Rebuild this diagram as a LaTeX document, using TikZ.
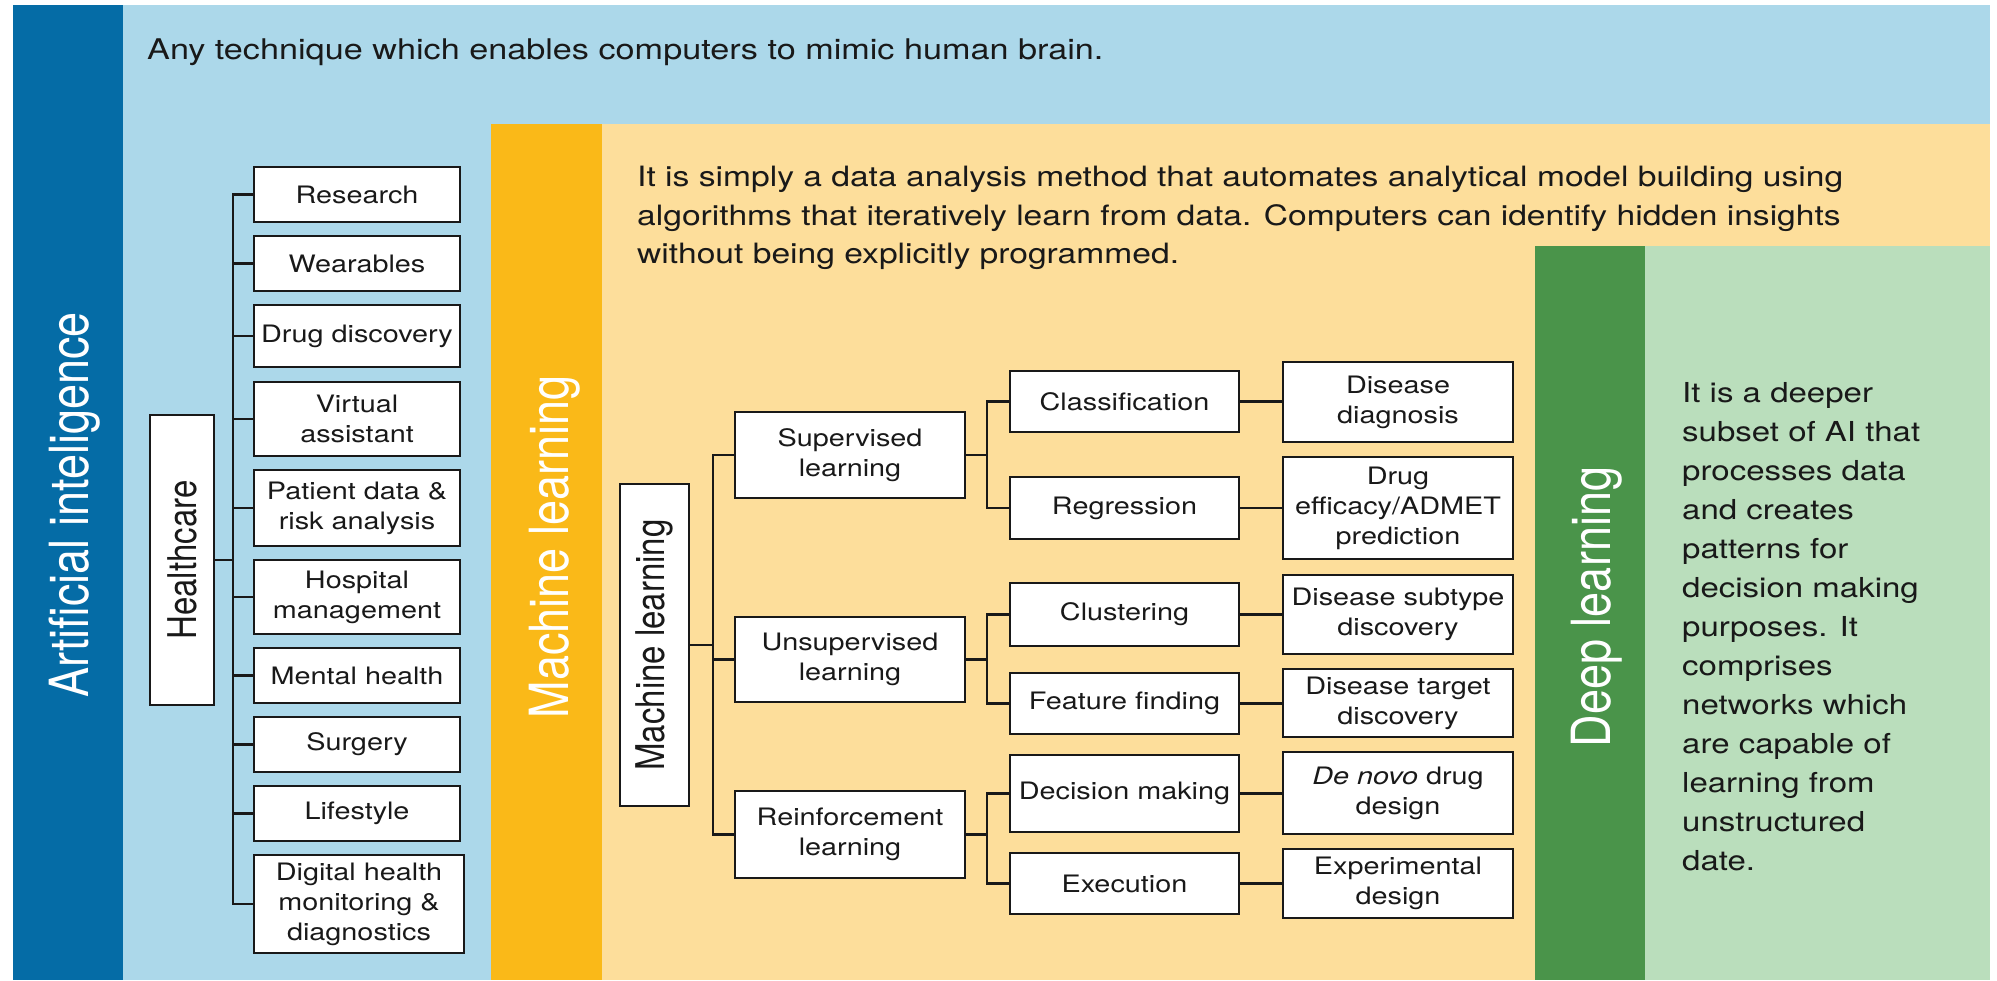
\documentclass[tikz,border=0pt]{standalone}
\usepackage{fontspec}
\usepackage{graphicx}
\setmainfont{TeX Gyre Heros}[FakeStretch=1.2]
\newfontfamily\plainfont{TeX Gyre Heros}
\definecolor{aiDark}{RGB}{5,108,166}
\definecolor{aiLight}{RGB}{172,216,234}
\definecolor{mlDark}{RGB}{250,185,24}
\definecolor{mlLight}{RGB}{253,222,155}
\definecolor{dlDark}{RGB}{74,148,74}
\definecolor{dlLight}{RGB}{186,222,188}
\definecolor{ink}{RGB}{25,25,25}
\begin{document}
\begin{tikzpicture}[x=1pt,y=-1pt,
  box/.style={draw=ink, line width=2.2pt, fill=white, align=center, inner sep=0pt,
    font=\fontsize{24}{30}\selectfont, text=ink},
  conn/.style={draw=ink, line width=2.2pt, line cap=rect},
  vlabel/.style={rotate=90, text=white, inner sep=0pt},
  para/.style={anchor=north west, align=left, inner sep=0pt, text=ink}]
% canvas
\fill[white] (0,0) rectangle (1997,980);
\useasboundingbox (0,0) rectangle (1997,980);
\fill[aiLight] (13,5) rectangle (1990,980);
\fill[aiDark] (13,5) rectangle (123,980);
\fill[mlLight] (491,124) rectangle (1990,980);
\fill[mlDark] (491,124) rectangle (602,980);
\fill[dlLight] (1535,246) rectangle (1990,980);
\fill[dlDark] (1535,246) rectangle (1645,980);
% band labels
\node[vlabel] (lai) at (75,505) {\scalebox{1}[1.2]{\plainfont\fontsize{45}{54}\selectfont Artificial inteligence}};
\node[vlabel] (lml) at (555,547) {\scalebox{1}[1.2]{\plainfont\fontsize{45}{54}\selectfont Machine learning}};
\node[vlabel] (ldl) at (1597,607) {\scalebox{1}[1.2]{\plainfont\fontsize{45}{54}\selectfont Deep learning}};
% descriptions
\node[anchor=base west, inner sep=0pt, text=ink, font=\fontsize{28.5}{34}\selectfont] (tai) at (147,59) {Any technique which enables computers to mimic human brain.};
\node[para, font=\fontsize{28}{38.5}\selectfont] (tml) at (637,166) {It is simply a data analysis method that automates analytical model building using\\algorithms that iteratively learn from data. Computers can identify hidden insights\\without being explicitly programmed.};
\node[para, font=\fontsize{27.5}{39}\selectfont] (tdl) at (1682,382) {It is a deeper\\subset of AI that\\processes data\\and creates\\patterns for\\decision making\\purposes. It\\comprises\\networks which\\are capable of\\learning from\\unstructured\\date.};
% healthcare tree
\node[box, rotate=90, minimum width=290, minimum height=64] (hc) at (182,560) {\scalebox{1}[1.2]{\plainfont\fontsize{33}{40}\selectfont Healthcare}};
\node[box, minimum width=206, minimum height=55] (h1) at (357,194.5) {Research};
\node[box, minimum width=206, minimum height=55] (h2) at (357,263.5) {Wearables};
\node[box, minimum width=206, minimum height=62] (h3) at (357,336) {Drug discovery};
\node[box, minimum width=206, minimum height=74] (h4) at (357,419) {Virtual\\assistant};
\node[box, minimum width=206, minimum height=76] (h5) at (357,508) {Patient data \&\\risk analysis};
\node[box, minimum width=206, minimum height=74] (h6) at (357,597) {Hospital\\management};
\node[box, minimum width=206, minimum height=55] (h7) at (357,675.5) {Mental health};
\node[box, minimum width=206, minimum height=55] (h8) at (357,744.5) {Surgery};
\node[box, minimum width=206, minimum height=55] (h9) at (357,813.5) {Lifestyle};
\node[box, minimum width=210, minimum height=98] (h10) at (359,904) {Digital health\\monitoring \&\\diagnostics};
\coordinate (trA) at (233,0);
\draw[conn] (h1.west -| trA) -- (h10.west -| trA);
\foreach \n in {1,...,10} \draw[conn] (h\n.west) -- (h\n.west -| trA);
\draw[conn] (hc.south) -- (hc.south -| trA);
% machine learning tree
\node[box, rotate=90, minimum width=322, minimum height=69] (mlb) at (654.5,645) {\scalebox{1}[1.2]{\plainfont\fontsize{33}{40}\selectfont Machine learning}};
\node[box, minimum width=230, minimum height=86] (sup) at (850,455) {Supervised\\learning};
\node[box, minimum width=230, minimum height=85] (uns) at (850,659.5) {Unsupervised\\learning};
\node[box, minimum width=230, minimum height=87] (rei) at (850,834.5) {Reinforcement\\learning};
\node[box, minimum width=229, minimum height=61] (cla) at (1124.5,401.5) {Classification};
\node[box, minimum width=229, minimum height=62] (reg) at (1124.5,508) {Regression};
\node[box, minimum width=229, minimum height=63] (clu) at (1124.5,614.5) {Clustering};
\node[box, minimum width=229, minimum height=61] (fea) at (1124.5,703.5) {Feature finding};
\node[box, minimum width=229, minimum height=77] (dec) at (1124.5,793.5) {Decision making};
\node[box, minimum width=229, minimum height=61] (exe) at (1124.5,883.5) {Execution};
\node[box, minimum width=230, minimum height=80] (dd) at (1398,402) {Disease\\diagnosis};
\node[box, minimum width=230, minimum height=102] (de) at (1398,508) {Drug\\efficacy/ADMET\\prediction};
\node[box, minimum width=230, minimum height=79] (ds) at (1398,614.5) {Disease subtype\\discovery};
\node[box, minimum width=230, minimum height=68] (dt) at (1398,703) {Disease target\\discovery};
\node[box, minimum width=230, minimum height=82] (dn) at (1398,793) {\textit{De novo} drug\\design};
\node[box, minimum width=230, minimum height=69] (ed) at (1398,883.5) {Experimental\\design};
\coordinate (trB) at (713,0);
\coordinate (trC) at (987,0);
\draw[conn] (mlb.south) -- (mlb.south -| trB);
\draw[conn] (sup.west -| trB) -- (rei.west -| trB);
\foreach \n in {sup,uns,rei} \draw[conn] (\n.west) -- (\n.west -| trB);
\foreach \p/\a/\b in {sup/cla/reg, uns/clu/fea, rei/dec/exe} {
  \draw[conn] (\p.east) -- (\p.east -| trC);
  \draw[conn] (\a.west -| trC) -- (\b.west -| trC);
  \draw[conn] (\a.west) -- (\a.west -| trC);
  \draw[conn] (\b.west) -- (\b.west -| trC);
}
\foreach \a/\b in {cla/dd, reg/de, clu/ds, fea/dt, dec/dn, exe/ed}
  \draw[conn] (\a.east) -- (\a.east -| \b.west);
\end{tikzpicture}
\end{document}
